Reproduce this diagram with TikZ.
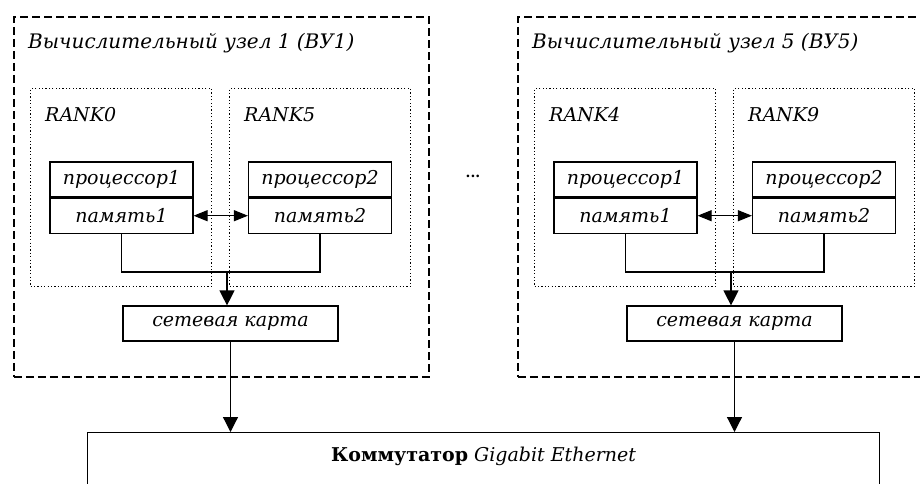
\documentclass[tikz,border=0pt]{standalone}
\usepackage{fontspec}
\setmainfont{DejaVu Serif}
\usetikzlibrary{arrows.meta}

\begin{document}
\begin{tikzpicture}[
  x=1pt, y=-1pt,
  font=\fontsize{19}{22}\selectfont\itshape,
  nodebox/.style={draw, line width=1.5pt, dash pattern=on 8pt off 4pt,
    anchor=north west, minimum width=415pt, minimum height=360pt},
  rankbox/.style={draw, line width=1.2pt, dash pattern=on 1.2pt off 2.2pt,
    anchor=north west, minimum width=181pt, minimum height=198pt},
  unit/.style={draw, line width=1.2pt, minimum width=143pt,
    minimum height=35pt, inner sep=0pt},
  lbl/.style={anchor=west, inner sep=0pt},
  link/.style={line width=1.2pt},
  arr/.style={link, -{Triangle[length=15pt,width=15pt]}}]
\useasboundingbox (0,0) rectangle (920,483);
\clip (0,0) rectangle (920,483);
\node [draw, line width=1.2pt, anchor=north west, minimum width=792pt,
  minimum height=90pt,
  label={[anchor=north, yshift=-12pt]north:{\upshape\bfseries Коммутатор}
    Gigabit Ethernet}] (sw) at (87,432) {};
\node [font=\fontsize{14}{16}\selectfont\bfseries] (dots) at (473,176) {...};
\foreach \n/\dx/\ra/\rb in {1/0/0/5, 5/504/4/9} {
  \node [nodebox] (vu\n) at (13+\dx,16) {};
  \node [lbl, font=\fontsize{20}{23}\selectfont\itshape] (title\n)
    at (28+\dx,43) {Вычислительный узел \n{} (ВУ\n)};
  \node [rankbox] (rank\ra) at (30+\dx,88) {};
  \node [rankbox] (rank\rb) at (229+\dx,88) {};
  \node [lbl] at (45+\dx,115) {RANK\ra};
  \node [lbl] at (244+\dx,115) {RANK\rb};
  \node [unit] (cpu\ra) at (121.5+\dx,179.5) {процессор1};
  \node [unit, anchor=north] (mem\ra) at (cpu\ra.south) {память1};
  \node [unit] (cpu\rb) at (320+\dx,179.5) {процессор2};
  \node [unit, anchor=north] (mem\rb) at (cpu\rb.south) {память2};
  \draw [line width=2.6pt] (cpu\ra.south west) -- (cpu\ra.south east);
  \draw [line width=2.6pt] (cpu\rb.south west) -- (cpu\rb.south east);
  \draw [link, {Triangle[length=14pt,width=11pt]}-{Triangle[length=14pt,width=11pt]}]
    (mem\ra.east) -- (mem\rb.west);
  \node [unit, minimum width=215pt] (card\n) at (230.5+\dx,323.5) {сетевая карта};
  \coordinate (bus\n) at (227+\dx,272);
  \draw [link] (mem\ra.south) |- (bus\n) -| (mem\rb.south);
  \draw [arr] (bus\n) -- (bus\n |- card\n.north);
  \draw [arr] (card\n.south) -- (card\n.south |- sw.north);
}
\end{tikzpicture}
\end{document}
